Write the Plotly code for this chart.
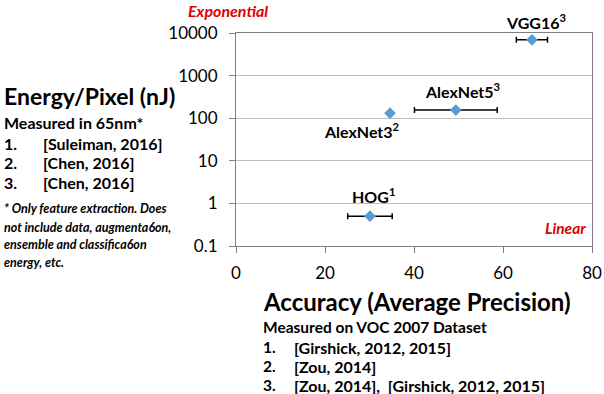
import math
import plotly.graph_objects as go

# data
models = ["HOG", "AlexNet3", "AlexNet5", "VGG16"]
refs = ["1", "2", "3", "3"]
accuracy = [30.1, 34.6, 49.4, 66.5]
accuracy_err = [5.0, 0.0, 9.3, 3.5]
energy = [0.5, 131, 155, 6900]

ytick_vals = [0.1, 1, 10, 100, 1000, 10000]
ytick_text = ["0.1", "1", "10", "100", "1000", "10000"]

energy_notes = ["[Suleiman, 2016]", "[Chen, 2016]", "[Chen, 2016]"]
accuracy_notes = ["[Girshick, 2012, 2015]", "[Zou, 2014]",
                  "[Zou, 2014],&nbsp;&nbsp;[Girshick, 2012, 2015]"]
footnote = ["* Only feature extraction. Does", "not include data, augmenta6on,",
            "ensemble and classifica6on", "energy, etc."]

FONT = "Lato"

# plot area in pixels (for placing the side text)
L, R, T, B = 236, 592, 33, 246


def px(x):
    return (x - L) / (R - L)


def py(y):
    return (B - y) / (B - T)


def side_text(x, y, text, size, anchor="left", color="black"):
    return dict(x=px(x), y=py(y), xref="paper", yref="paper", showarrow=False,
                xanchor=anchor, yanchor="middle", text=text,
                font=dict(family=FONT, size=size, color=color))


fig = go.Figure()
fig.add_trace(go.Scatter(
    x=accuracy, y=energy, mode="markers",
    marker=dict(symbol="diamond", size=9, color="#5B9BD5"),
    error_x=dict(type="data", array=accuracy_err, color="black", thickness=1.5, width=3),
    showlegend=False))

annos = []
# point labels
shifts = {"HOG": (4, 21), "AlexNet3": (-28, -17), "AlexNet5": (7, 20), "VGG16": (4, 18)}
for m, r, xv, yv in zip(models, refs, accuracy, energy):
    dx, dy = shifts[m]
    annos.append(dict(x=xv, y=math.log10(yv), xref="x", yref="y", showarrow=False,
                      xanchor="center", yanchor="middle",
                      text="<b>%s<sup>%s</sup></b>" % (m, r), xshift=dx, yshift=dy,
                      font=dict(family=FONT, size=16, color="black")))

annos.append(side_text(228, 10, "<b><i>Exponential</i></b>", 16, "center", "#E00000"))
annos.append(side_text(588, 228, "<b><i>Linear</i></b>", 15.5, "right", "#E00000"))

# left block
annos.append(side_text(2, 96, "<b>Energy/Pixel (nJ)</b>", 23))
annos.append(side_text(2, 122, "<b>Measured in 65nm*</b>", 16))
for i, (note, yy) in enumerate(zip(energy_notes, [143, 163, 182])):
    annos.append(side_text(2, yy, "<b>%d.</b>" % (i + 1), 16))
    annos.append(side_text(41, yy, "<b>%s</b>" % note, 16))
for line, yy in zip(footnote, [208, 227, 244, 262]):
    annos.append(side_text(2, yy, "<b><i>%s</i></b>" % line, 12.5))

# bottom block
annos.append(side_text(261, 301, "<b>Accuracy (Average Precision)</b>", 24))
annos.append(side_text(261, 327, "<b>Measured on VOC 2007 Dataset</b>", 15.5))
for i, (note, yy) in enumerate(zip(accuracy_notes, [347, 366, 385])):
    annos.append(side_text(261, yy, "<b>%d.</b>" % (i + 1), 15.5))
    annos.append(side_text(292, yy, "<b>%s</b>" % note, 16))

fig.update_layout(
    width=604, height=394,
    margin=dict(l=L, r=604 - R, t=T, b=394 - B),
    paper_bgcolor="white", plot_bgcolor="white",
    font=dict(family=FONT, color="black"),
    annotations=annos,
    xaxis=dict(range=[0, 80], tickvals=[0, 20, 40, 60, 80], showgrid=False, zeroline=False,
               showline=True, linecolor="#808080", linewidth=1, mirror=True, automargin=False,
               ticks="outside", ticklen=6, tickcolor="#808080", ticklabelstandoff=6,
               tickfont=dict(family=FONT, size=17, color="black")),
    yaxis=dict(type="log", range=[-1, 4], tickvals=ytick_vals, ticktext=ytick_text,
               showgrid=True, gridcolor="#BFBFBF", zeroline=False, automargin=False,
               showline=True, linecolor="#808080", linewidth=1, mirror=True,
               ticks="outside", ticklen=6, tickcolor="#808080", ticklabelstandoff=8,
               tickfont=dict(family=FONT, size=17, color="black")),
)

# page body has an 8px default margin; drop it so the figure fills the window
fig.write_html("out.html", config={"displayModeBar": False},
               post_script="document.body.style.margin='0px';")
